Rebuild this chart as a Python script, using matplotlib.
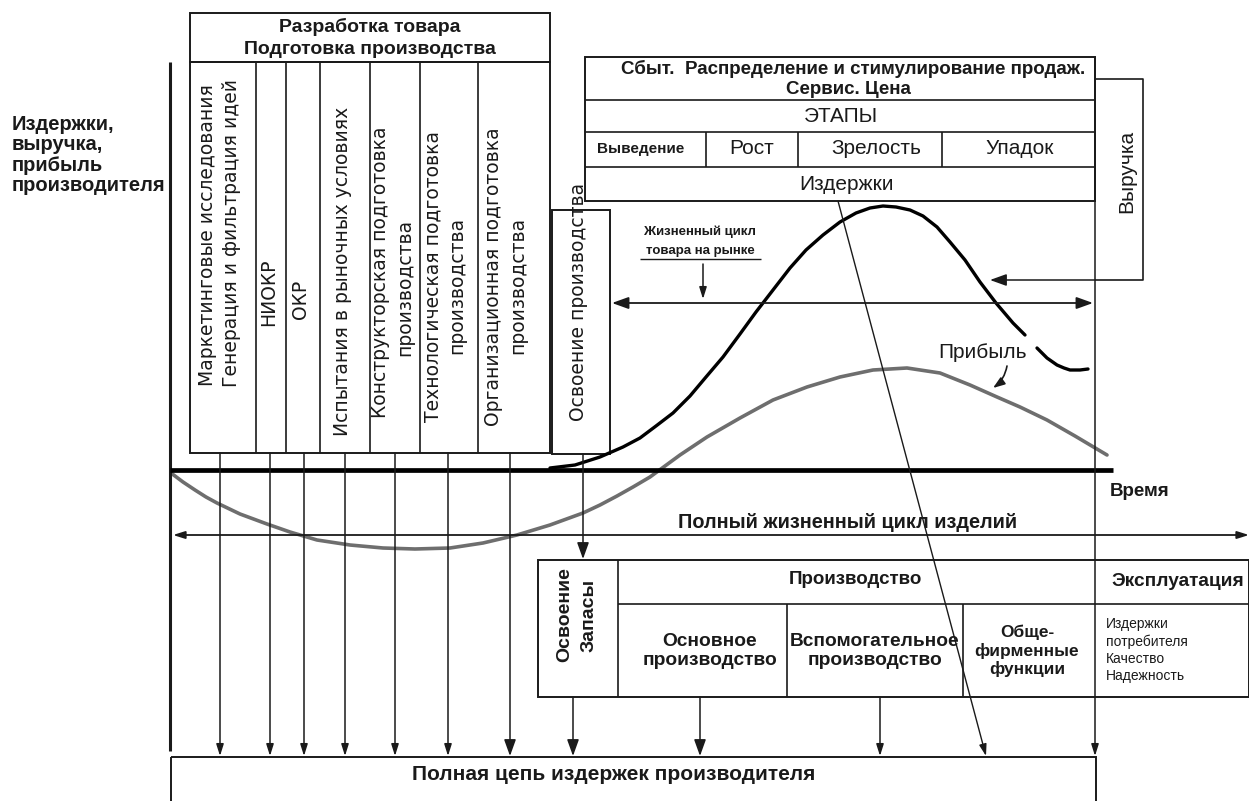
import matplotlib
matplotlib.use("Agg")
import matplotlib.pyplot as plt
from matplotlib.patches import Rectangle

# --- data (pixel coordinates of the picture) ---
# revenue curve ("Выручка"), drawn in two pieces with a gap for the label
revenue_x = [550, 575, 600, 623, 640, 656, 673, 690, 706, 723, 740, 756,
             773, 790, 806, 823, 840, 856, 870, 883, 896, 910, 923, 937,
             950, 965, 980, 996, 1013, 1025]
revenue_y = [468, 465, 457, 447, 438, 426, 413, 396, 377, 357, 334, 312,
             290, 268, 250, 235, 222, 213, 208, 206, 207, 210, 216, 227,
             242, 260, 282, 303, 323, 335]
revenue_tail_x = [1037, 1047, 1057, 1064, 1070, 1080, 1088]
revenue_tail_y = [348, 358, 365, 368, 370, 370, 369]

# profit curve ("Прибыль")
profit_x = [171, 183, 195, 206, 217, 240, 267, 290, 317, 350, 383, 415,
            450, 483, 517, 550, 583, 600, 617, 633, 650, 665, 680, 707,
            740, 773, 807, 840, 873, 907, 940, 970, 997, 1020, 1047, 1075,
            1107]
profit_y = [473, 482, 490, 497, 503, 514, 524, 532, 540, 545, 548, 549,
            548, 543, 535, 525, 513, 505, 496, 487, 477, 466, 455, 437,
            418, 400, 387, 377, 370, 368, 373, 385, 397, 407, 420, 436,
            455]

dev_labels = [
    "Маркетинговые исследования", "Генерация и фильтрация идей", "НИОКР", "ОКР",
    "Испытания в рыночных условиях",
    "Конструкторская подготовка", "производства",
    "Технологическая подготовка", "производства",
    "Организационная подготовка", "производства",
]
stage_labels = ["Выведение", "Рост", "Зрелость", "Упадок"]
production_labels = ["Основное\nпроизводство", "Вспомогательное\nпроизводство",
                     "Обще-\nфирменные\nфункции"]
consumer_labels = "Издержки\nпотребителя\nКачество\nНадежность"

INK = "#1a1a1a"
BOLD_NARROW = ["Liberation Sans Narrow", "Liberation Sans", "DejaVu Sans"]
SANS = ["Liberation Sans", "DejaVu Sans"]

fig = plt.figure(figsize=(12.49, 8.01), dpi=100)
ax = fig.add_axes([0, 0, 1, 1])
ax.set_xlim(0, 1249)
ax.set_ylim(801, 0)
ax.axis("off")


def box(x0, y0, x1, y1, lw=1.4):
    ax.add_patch(Rectangle((x0, y0), x1 - x0, y1 - y0, fill=False,
                           edgecolor=INK, linewidth=lw))


def line(xs, ys, lw=1.2, color=INK):
    ax.plot(xs, ys, color=color, linewidth=lw, solid_capstyle="butt")


def arrow(x0, y0, x1, y1, big=False, lw=1.1):
    hw, hl = (0.36, 1.0) if big else (0.22, 0.7)
    ax.annotate("", xy=(x1, y1), xytext=(x0, y0),
                arrowprops=dict(arrowstyle=f"-|>,head_length={hl},head_width={hw}",
                                color=INK, lw=lw, mutation_scale=10,
                                shrinkA=0, shrinkB=0))


def txt(x, y, s, size=12, bold=False, family=None, **kw):
    kw.setdefault("ha", "center")
    kw.setdefault("va", "center")
    ax.text(x, y, s, fontsize=size, fontweight="bold" if bold else "normal",
            family=family or SANS, color=INK, **kw)


def vtxt(x, y, s, size=14, bold=False, family=None):
    ax.text(x, y, s, rotation=90, rotation_mode="anchor", ha="center",
            va="center", fontsize=size, fontweight="bold" if bold else "normal",
            family=family or ["DejaVu Sans"], color=INK)


# y-axis label
txt(12, 155, "Издержки,\nвыручка,\nприбыль\nпроизводителя", size=14.5, bold=True,
    ha="left", linespacing=1.1)

# development block
box(190, 13, 550, 62)
txt(370, 27, "Разработка товара", size=14, bold=True)
txt(370, 50, "Подготовка производства", size=14, bold=True)
box(190, 62, 550, 453)
for xd in [256, 286, 320, 370, 420, 478]:
    line([xd, xd], [62, 453])
dev_pos = [(208, 235), (232, 233), (269, 292), (301, 299), (343, 271),
           (381, 272), (405, 287), (433, 276), (457, 285), (494, 277),
           (518, 285)]
for (xp, yp), s in zip(dev_pos, dev_labels):
    vtxt(xp, yp, s, size=13.5)

# start of production box
box(552, 210, 610, 454)
vtxt(579, 302, "Освоение производства", size=13.5)

# sales block
box(585, 57, 1095, 201)
for yh in [100, 132, 167]:
    line([585, 1095], [yh, yh])
for xd in [706, 798, 942]:
    line([xd, xd], [132, 167])
txt(853, 69, "Сбыт.  Распределение и стимулирование продаж.", size=13.5, bold=True)
txt(848, 89, "Сервис. Цена", size=13.5, bold=True)
txt(841, 116, "ЭТАПЫ", size=15)
stage_x = [641, 752, 876, 1020]
for xs, s in zip(stage_x, stage_labels):
    if s == stage_labels[0]:
        txt(xs, 149, s, size=11, bold=True, family=BOLD_NARROW)
    else:
        txt(xs, 149, s, size=15)
txt(847, 184, "Издержки", size=15)

# revenue box with arrow to the curve
line([1095, 1143, 1143, 1095], [79, 79, 280, 280])
arrow(1095, 280, 990, 280, big=True)
vtxt(1127, 171, "Выручка", size=15, family=SANS)

# market life cycle arrow
ax.annotate("", xy=(612, 303), xytext=(1093, 303),
            arrowprops=dict(arrowstyle="<|-|>,head_length=1.0,head_width=0.36",
                            color=INK, lw=1.3, mutation_scale=10,
                            shrinkA=0, shrinkB=0))
txt(700, 232, "Жизненный цикл", size=9.5, bold=True, family=BOLD_NARROW)
txt(700, 251, "товара на рынке", size=9.5, bold=True, family=BOLD_NARROW)
line([640, 761], [259, 259], lw=1.0)
arrow(703, 264, 703, 299)

# curves
ax.plot(profit_x, profit_y, color="#6e6e6e", linewidth=2.6,
        solid_capstyle="round", solid_joinstyle="round")
ax.plot(revenue_x, revenue_y, color="black", linewidth=2.4,
        solid_capstyle="round", solid_joinstyle="round")
ax.plot(revenue_tail_x, revenue_tail_y, color="black", linewidth=2.4,
        solid_capstyle="round", solid_joinstyle="round")
txt(983, 353, "Прибыль", size=15)
ax.annotate("", xy=(993, 388), xytext=(1007, 366),
            arrowprops=dict(arrowstyle="-|>,head_length=0.7,head_width=0.25",
                            connectionstyle="arc3,rad=-0.2", color=INK, lw=1.2,
                            mutation_scale=10, shrinkA=0, shrinkB=0))

# axes
line([170, 170], [62, 751], lw=2.2)
line([170, 1113], [470, 470], lw=3.4, color="black")
txt(1110, 491, "Время", size=13.5, bold=True, ha="left")

# cost flow arrows down to the bottom box
for xa in [220, 270, 304, 345, 395, 448]:
    arrow(xa, 453, xa, 756)
arrow(510, 453, 510, 756, big=True)
arrow(583, 454, 583, 559, big=True)
arrow(573, 697, 573, 756, big=True)
arrow(700, 697, 700, 756, big=True)
arrow(880, 697, 880, 756)
arrow(1095, 57, 1095, 756)
arrow(838, 201, 986, 756, lw=1.0)

# full product life cycle arrow
ax.annotate("", xy=(173, 535), xytext=(1249, 535),
            arrowprops=dict(arrowstyle="<|-|>,head_length=0.7,head_width=0.22",
                            color=INK, lw=1.3, mutation_scale=10,
                            shrinkA=0, shrinkB=0))
txt(848, 523, "Полный жизненный цикл изделий", size=14.3, bold=True)

# production block
box(538, 560, 1249, 697)
line([618, 618], [560, 697])
line([618, 1249], [604, 604])
for xd in [787, 963]:
    line([xd, xd], [604, 697])
ax.text(565, 615, "Освоение", rotation=90, rotation_mode="anchor", ha="center",
        va="center", fontsize=14, fontweight="bold", family=SANS, color=INK)
ax.text(589, 615, "Запасы", rotation=90, rotation_mode="anchor", ha="center",
        va="center", fontsize=14, fontweight="bold", family=SANS, color=INK)
txt(855, 580, "Производство", size=13.5, bold=True)
txt(1178, 581, "Эксплуатация", size=13.8, bold=True)
prod_x = [710, 875, 1027]
prod_size = [13.8, 13.8, 12.5]
for xp, s, fs in zip(prod_x, production_labels, prod_size):
    txt(xp, 651, s, size=fs, bold=True, linespacing=1.2)
txt(1106, 650, consumer_labels, size=10, ha="left", linespacing=1.3,
    family=BOLD_NARROW)

# bottom box
box(171, 757, 1096, 812)
txt(614, 775, "Полная цепь издержек производителя", size=15, bold=True,
    family=BOLD_NARROW)

fig.savefig("out.png", dpi=100, facecolor="white")
